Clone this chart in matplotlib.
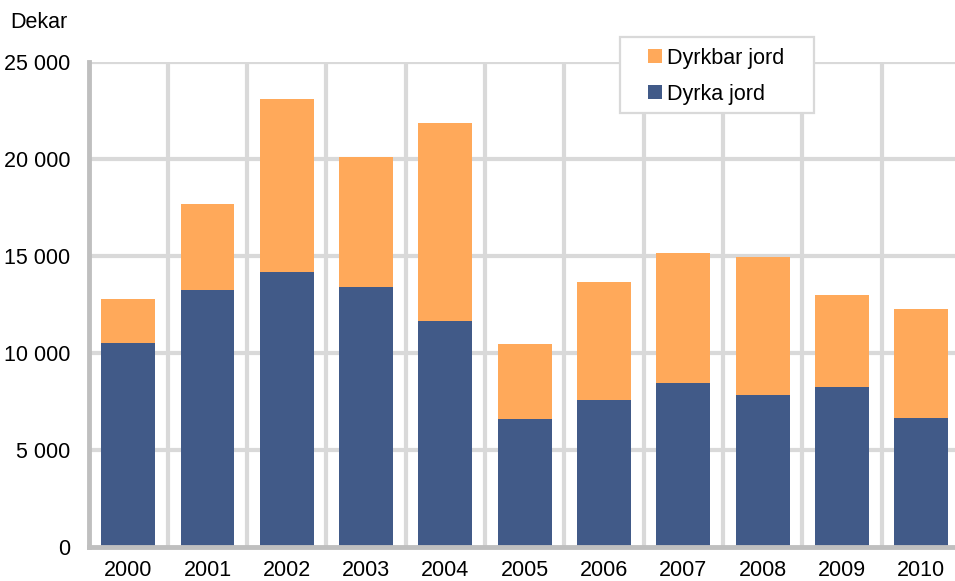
import matplotlib
matplotlib.use("Agg")
import matplotlib.pyplot as plt
from matplotlib.ticker import FuncFormatter
from matplotlib.patches import Rectangle
import numpy as np

years = ["2000", "2001", "2002", "2003", "2004", "2005", "2006", "2007", "2008", "2009", "2010"]
dyrka = [10500, 13250, 14180, 13400, 11650, 6600, 7580, 8450, 7840, 8250, 6650]
total = [12780, 17680, 23090, 20100, 21860, 10460, 13660, 15150, 14950, 12990, 12270]
dyrkbar = [t - d for t, d in zip(total, dyrka)]
yticks = [0, 5000, 10000, 15000, 20000, 25000]
series_names = ["Dyrkbar jord", "Dyrka jord"]

plt.rcParams['font.family'] = ['Liberation Sans', 'DejaVu Sans']

W, H = 955, 581
fig = plt.figure(figsize=(W/100, H/100), dpi=100)
ax = fig.add_axes([88.5/W, 1-547/H, (961-88.5)/W, (547-62)/H])

x = np.arange(len(years))
blue = "#415a88"
orange = "#ffa95a"
ax.bar(x, dyrka, width=0.68, color=blue, zorder=3)
ax.bar(x, dyrkbar, bottom=dyrka, width=0.68, color=orange, zorder=3)

ax.set_xlim(-0.5, len(years) - 0.5)
ax.set_ylim(0, 25000)
ax.set_yticks(yticks)
ax.yaxis.set_major_formatter(FuncFormatter(lambda v, p: f"{int(v):,}".replace(",", " ")))
ax.set_xticks(x)
ax.set_xticklabels(years)
ax.tick_params(axis='both', length=0, labelsize=15.5)
ax.tick_params(axis='y', pad=13)
ax.tick_params(axis='x', pad=9.5)

grid_c = "#d9d9d9"
for v in yticks[1:]:
    ax.axhline(v, color=grid_c, lw=3.0, zorder=1)
for k in range(len(years)):
    ax.axvline(k + 0.5, color=grid_c, lw=3.0, zorder=1)

for s in ["top", "right"]:
    ax.spines[s].set_visible(False)
for s in ["left", "bottom"]:
    ax.spines[s].set_color("#bfbfbf")
    ax.spines[s].set_linewidth(3.5)
    ax.spines[s].set_zorder(4)

# legend (manual layout to match reference box)
def fx(px):
    return px / W
def fy(py):
    return 1 - py / H

fig.add_artist(Rectangle((fx(620), fy(113)), fx(814) - fx(620), fy(37) - fy(113),
                         transform=fig.transFigure, facecolor="white",
                         edgecolor="#d9d9d9", lw=1.6, zorder=10))
for name, col, cy in [(series_names[0], orange, 56), (series_names[1], blue, 92)]:
    fig.add_artist(Rectangle((fx(648), fy(cy + 7)), 14/W, 14/H,
                             transform=fig.transFigure, facecolor=col,
                             edgecolor="none", zorder=11))
    fig.text(fx(667), fy(cy), name, fontsize=15.5, va="center_baseline", ha="left", zorder=12)

fig.text(fx(10), fy(22), "Dekar", fontsize=15.5, va="center", ha="left")

fig.savefig("out.png", dpi=100)
